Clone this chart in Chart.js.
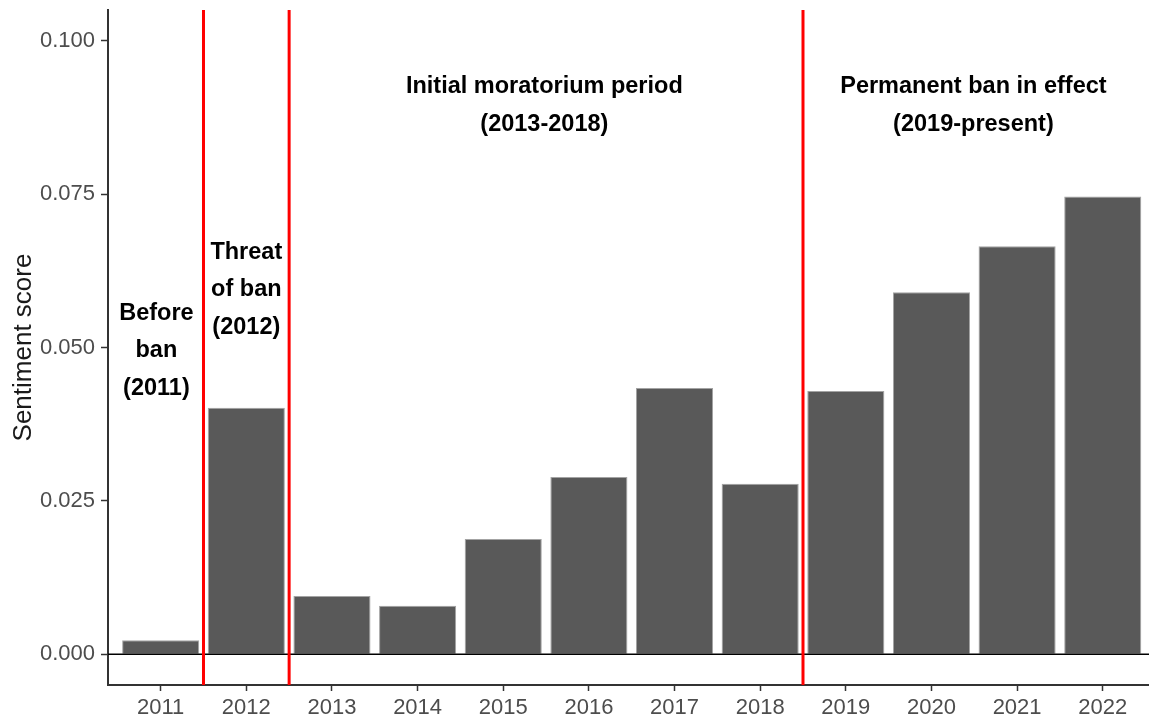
<!DOCTYPE html>
<html>
<head>
<meta charset="utf-8">
<script src="https://cdn.jsdelivr.net/npm/chart.js@4.4.1/dist/chart.umd.min.js"></script>
<style>
html,body{margin:0;padding:0;background:#fff;}
#wrap{width:1149px;height:722px;position:relative;}
</style>
</head>
<body>
<div id="wrap"><canvas id="c" width="1149" height="722"></canvas></div>
<script>
// ---- Data ----
const categories = ['2011','2012','2013','2014','2015','2016','2017','2018','2019','2020','2021','2022'];
const sentimentScores = [0.0023, 0.0402, 0.0095, 0.0079, 0.0188, 0.0289, 0.0434, 0.0278, 0.0429, 0.0590, 0.0665, 0.0746];
const yTickValues = [0, 0.025, 0.05, 0.075, 0.1];
const periodBoundaries = [0.5, 1.5, 7.5];
const periodLabels = [
  ['Before', 'ban', '(2011)'],
  ['Threat', 'of ban', '(2012)'],
  ['Initial moratorium period', '(2013-2018)'],
  ['Permanent ban in effect', '(2019-present)']
];
const labelAnchorX = [-0.05, 1, 4.48, 9.49];
const labelAnchorY = [0.0495, 0.0594, 0.0894, 0.0894];

const FONT = '"Liberation Sans", Arial, Helvetica, sans-serif';

const overlay = {
  id: 'overlay',
  afterDatasetsDraw(chart) {
    const {ctx, chartArea, scales: {x, y}} = chart;
    ctx.save();
    const y0 = y.getPixelForValue(0);
    ctx.strokeStyle = '#000';
    ctx.lineWidth = 1.5;
    ctx.beginPath();
    ctx.moveTo(chartArea.left, y0);
    ctx.lineTo(chartArea.right, y0);
    ctx.stroke();
    ctx.strokeStyle = '#ff0000';
    ctx.lineWidth = 3;
    periodBoundaries.forEach(b => {
      const px = x.getPixelForValue(b);
      ctx.beginPath();
      ctx.moveTo(px, chartArea.top);
      ctx.lineTo(px, chartArea.bottom);
      ctx.stroke();
    });
    ctx.fillStyle = '#000';
    ctx.font = 'bold 23.5px ' + FONT;
    ctx.textAlign = 'center';
    ctx.textBaseline = 'middle';
    const lh = 37.5;
    periodLabels.forEach((lines, k) => {
      const cx = x.getPixelForValue(labelAnchorX[k]);
      const cy = y.getPixelForValue(labelAnchorY[k]);
      lines.forEach((t, j) => {
        ctx.fillText(t, cx, cy + (j - (lines.length - 1) / 2) * lh);
      });
    });
    ctx.restore();
  }
};

new Chart(document.getElementById('c'), {
  type: 'bar',
  data: {
    datasets: [{
      data: categories.map((c, i) => ({x: i, y: sentimentScores[i]})),
      backgroundColor: '#595959',
      borderColor: '#a3a3a3',
      borderWidth: 1,
      barPercentage: 0.9,
      categoryPercentage: 1.0
    }]
  },
  options: {
    responsive: false,
    animation: false,
    devicePixelRatio: 1,
    layout: {padding: {top: 10, right: 0, left: 0, bottom: 0}},
    plugins: {legend: {display: false}, tooltip: {enabled: false}},
    scales: {
      x: {
        type: 'linear',
        offset: false,
        min: -0.615,
        max: 11.54,
        afterFit: s => { s.height = 37; s.paddingLeft = 0; s.paddingRight = 0; },
        afterBuildTicks: s => { s.ticks = categories.map((c, i) => ({value: i})); },
        grid: {offset: false, drawOnChartArea: false, tickLength: 6, tickColor: '#333', tickWidth: 1.5},
        border: {color: '#333', width: 2},
        ticks: {
          autoSkip: false, maxRotation: 0, padding: 4,
          color: '#4d4d4d',
          font: {family: FONT, size: 22},
          callback: v => categories[v]
        }
      },
      y: {
        type: 'linear',
        min: -0.005,
        max: 0.105,
        afterFit: s => { s.width = 108; s.paddingTop = 0; s.paddingBottom = 0; },
        afterBuildTicks: s => { s.ticks = yTickValues.map(v => ({value: v})); },
        grid: {drawOnChartArea: false, tickLength: 7, tickColor: '#333', tickWidth: 1.5},
        border: {color: '#333', width: 2},
        ticks: {
          padding: 6,
          color: '#4d4d4d',
          font: {family: FONT, size: 22},
          callback: v => Number(v).toFixed(3)
        },
        title: {
          display: true,
          text: 'Sentiment score',
          color: '#1a1a1a',
          font: {family: FONT, size: 26},
          padding: {top: 8, bottom: 0}
        }
      }
    }
  },
  plugins: [overlay]
});
</script>
</body>
</html>
